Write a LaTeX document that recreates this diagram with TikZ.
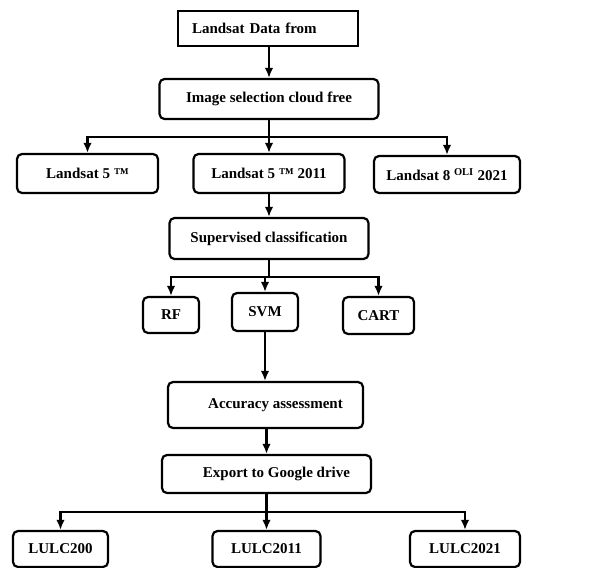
\documentclass[tikz,border=0pt]{standalone}
\usepackage{fontspec}
\setmainfont{Liberation Serif}
\usetikzlibrary{arrows.meta}

\begin{document}
\begin{tikzpicture}[x=1pt, y=-1pt, line width=2.2pt, >={Latex[length=10pt,width=8.5pt]}]
			\tikzstyle{box}=[draw=black, rounded corners=5pt, inner sep=0pt, font=\fontsize{15}{17}\selectfont\bfseries, text centered]
			\tikzstyle{arr}=[->, line width=2.2pt]
			
			\useasboundingbox (0,0) rectangle (606,568);
			
			% Draw different steps
			\node[box, rounded corners=0pt, minimum width=180pt, minimum height=35pt, text width=152pt, align=left] (data) at (268,28.5) {Landsat Data from};
			\node[box, minimum width=219pt, minimum height=40pt] (select) at (269,99) {Image selection cloud free};
			\node[box, minimum width=141pt, minimum height=39pt] (ls5) at (87.5,173.5) {Landsat 5 ™};
			\node[box, minimum width=151pt, minimum height=39pt] (ls2011) at (269,173.5) {Landsat 5 ™ 2011};
			\node[box, minimum width=146pt, minimum height=37pt] (ls8) at (447,174.5) {Landsat 8 \textsuperscript{OLI} 2021};
			\node[box, minimum width=199pt, minimum height=41pt] (superv) at (269,238.5) {Supervised classification};
			\node[box, minimum width=56pt, minimum height=36pt] (rf) at (171,315) {RF};
			\node[box, minimum width=66pt, minimum height=38pt] (svm) at (265,312) {SVM};
			\node[box, minimum width=71pt, minimum height=37pt] (cart) at (378.5,315.5) {CART};
			\node[box, minimum width=195pt, minimum height=46pt] (accur) at (265.5,405) {\hspace*{20pt}Accuracy assessment};
			\node[box, minimum width=209pt, minimum height=38pt] (export) at (266.5,474) {\hspace*{20pt}Export to Google drive};
			\node[box, minimum width=95pt, minimum height=36pt] (lulc200) at (60.5,549) {LULC200};
			\node[box, minimum width=108pt, minimum height=36pt] (lulc2011) at (266.5,549) {LULC2011};
			\node[box, minimum width=110pt, minimum height=36pt] (lulc2021) at (465,549) {LULC2021};
			
			% Branch points
			\coordinate (split1) at (269,137);
			\coordinate (split2) at (269,277);
			\coordinate (split3) at (266.5,512);
			
			% Draw arrows
			\draw[arr] (data.south -| select.north) -- (select.north);
			\draw[arr] (select.south) -- (split1) -| (ls5.north);
			\draw[arr] (split1) -| (ls8.north);
			\draw[arr] (split1) -- (ls2011.north);
			\draw[arr] (ls2011.south) -- (superv.north);
			\draw[arr] (superv.south) -- (split2) -| (rf.north);
			\draw[arr] (split2) -| (cart.north);
			\draw[arr] (split2) -| (svm.north);
			\draw[arr] (svm.south) -- (svm.south |- accur.north);
			\draw[arr] (accur.south -| export.north) -- (export.north);
			\draw[arr] (export.south) -- (split3) -| (lulc200.north);
			\draw[arr] (split3) -| (lulc2021.north);
			\draw[arr] (split3) -- (lulc2011.north);
			
		\end{tikzpicture}
\end{document}
